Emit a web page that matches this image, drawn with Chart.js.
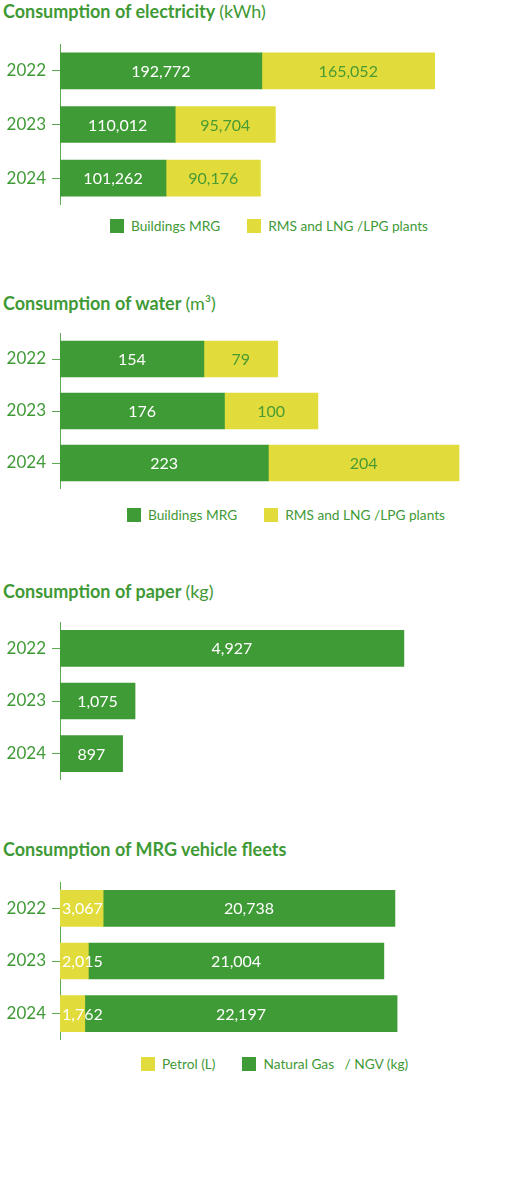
<!DOCTYPE html>
<html>
<head>
<meta charset="utf-8">
<script src="https://cdn.jsdelivr.net/npm/chart.js@4.4.1/dist/chart.umd.min.js"></script>
<style>
  html, body { margin: 0; padding: 0; background: #fff; }
  body { width: 526px; height: 1181px; position: relative; overflow: hidden; font-family: Lato, 'Open Sans', sans-serif; }
  .title { position: absolute; left: 3px; font-size: 18px; font-weight: 700; color: #3f9a36; white-space: nowrap; }
  .title span { font-weight: 400; }
  .box { position: absolute; left: 0; width: 526px; }
  .legend { position: absolute; font-size: 13.7px; color: #3f9a36; white-space: nowrap; display: flex; align-items: center; }
  .legend i { display: inline-block; width: 14px; height: 14px; margin-right: 7px; }
  .legend b { font-weight: 400; margin-right: 27px; }
</style>
</head>
<body>
<div class="title" style="top:0px">Consumption of electricity <span>(kWh)</span></div>
<div class="box" style="top:44px;height:161px"><canvas id="elec"></canvas></div>
<div class="legend" id="elec-legend" style="top:217px;left:110px"></div>

<div class="title" style="top:292px">Consumption of water <span>(m³)</span></div>
<div class="box" style="top:333px;height:156px"><canvas id="water"></canvas></div>
<div class="legend" id="water-legend" style="top:506px;left:127px"></div>

<div class="title" style="top:580px">Consumption of paper <span>(kg)</span></div>
<div class="box" style="top:622px;height:158px"><canvas id="paper"></canvas></div>

<div class="title" style="top:838px">Consumption of MRG vehicle fleets</div>
<div class="box" style="top:882px;height:158px"><canvas id="fleet"></canvas></div>
<div class="legend" id="fleet-legend" style="top:1055px;left:141px"></div>

<script>
const years = ['2022', '2023', '2024'];

const elecBuildings = [192772, 110012, 101262];
const elecPlants = [165052, 95704, 90176];

const waterBuildings = [154, 176, 223];
const waterPlants = [79, 100, 204];

const paperUsed = [4927, 1075, 897];

const fleetPetrol = [3067, 2015, 1762];
const fleetGas = [20738, 21004, 22197];

const GREEN = '#3f9b35';
const YELLOW = '#e1dc3c';
const AXIS = '#5cab52';
const FONT = "Lato, 'Open Sans', sans-serif";

const fmt = (n) => n.toLocaleString('en-US');

// writes the value inside each bar segment
const barLabels = {
  id: 'barLabels',
  afterDatasetsDraw(chart) {
    const ctx = chart.ctx;
    ctx.save();
    ctx.font = '16px ' + FONT;
    ctx.textBaseline = 'middle';
    chart.data.datasets.forEach((ds, i) => {
      const meta = chart.getDatasetMeta(i);
      meta.data.forEach((bar, j) => {
        ctx.fillStyle = ds.labelColor;
        if (ds.labelAlign === 'start') {
          ctx.textAlign = 'left';
          ctx.fillText(fmt(ds.data[j]), bar.base + 2, bar.y + 1);
        } else {
          ctx.textAlign = 'center';
          ctx.fillText(fmt(ds.data[j]), (bar.base + bar.x) / 2, bar.y + 1);
        }
      });
    });
    ctx.restore();
  },
};

function makeChart(id, datasets, max) {
  new Chart(document.getElementById(id), {
    type: 'bar',
    data: { labels: years, datasets },
    options: {
      indexAxis: 'y',
      responsive: true,
      maintainAspectRatio: false,
      animation: false,
      layout: { padding: { left: 0, right: 10, top: 0, bottom: 0 } },
      plugins: { legend: { display: false }, tooltip: { enabled: false } },
      datasets: { bar: { barThickness: 36 } },
      scales: {
        x: { display: false, stacked: true, min: 0, max },
        y: {
          stacked: true,
          afterFit: (scale) => {
            scale.width = 60;
            scale.paddingTop = 0;
            scale.paddingBottom = 0;
          },
          border: { display: true, color: AXIS, width: 1 },
          grid: { drawOnChartArea: false, offset: false, tickLength: 8, color: AXIS, tickColor: AXIS },
          ticks: { color: '#3f9a36', padding: 6, font: { family: FONT, size: 17 } },
        },
      },
    },
    plugins: [barLabels],
  });
}

function makeLegend(id, items) {
  document.getElementById(id).innerHTML = items
    .map(([label, color]) => `<i style="background:${color}"></i><b>${label}</b>`)
    .join('');
}

makeChart('elec', [
  { label: 'Buildings MRG', data: elecBuildings, backgroundColor: GREEN, labelColor: '#fff' },
  { label: 'RMS and LNG /LPG plants', data: elecPlants, backgroundColor: YELLOW, labelColor: '#4a9a32' },
], 435500);

makeChart('water', [
  { label: 'Buildings MRG', data: waterBuildings, backgroundColor: GREEN, labelColor: '#fff' },
  { label: 'RMS and LNG /LPG plants', data: waterPlants, backgroundColor: YELLOW, labelColor: '#4a9a32' },
], 488);

makeChart('paper', [
  { label: 'Paper', data: paperUsed, backgroundColor: GREEN, labelColor: '#fff' },
], 6533);

makeChart('fleet', [
  { label: 'Petrol (L)', data: fleetPetrol, backgroundColor: YELLOW, labelColor: '#fff', labelAlign: 'start' },
  { label: 'Natural Gas  / NGV (kg)', data: fleetGas, backgroundColor: GREEN, labelColor: '#fff' },
], 32410);

makeLegend('elec-legend', [['Buildings MRG', GREEN], ['RMS and LNG /LPG plants', YELLOW]]);
makeLegend('water-legend', [['Buildings MRG', GREEN], ['RMS and LNG /LPG plants', YELLOW]]);
makeLegend('fleet-legend', [['Petrol (L)', YELLOW], ['Natural Gas&nbsp;&nbsp; / NGV (kg)', GREEN]]);
</script>
</body>
</html>
